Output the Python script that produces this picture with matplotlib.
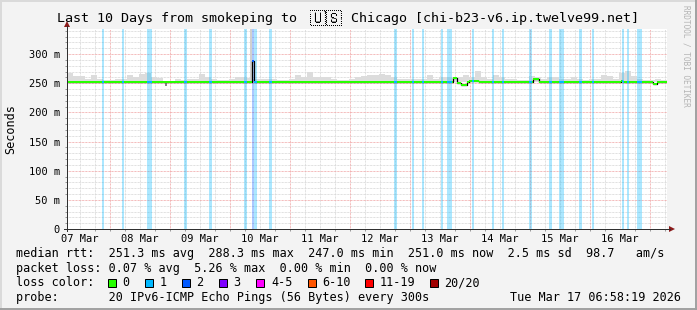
import matplotlib
matplotlib.use("Agg")
import matplotlib.pyplot as plt
from matplotlib.lines import Line2D
from matplotlib.patches import Rectangle, Polygon
from matplotlib import font_manager
from matplotlib.ft2font import FT2Font

plt.rcParams['font.family'] = ['DejaVu Sans Mono', 'DejaVu Sans']

# ---------------- data ----------------
title_left = "Last 10 Days from smokeping to "
title_flag = "\U0001F1FA\U0001F1F8"
title_right = " Chicago [chi-b23-v6.ip.twelve99.net]"
# time axis: hours since 07 Mar 2026 00:00
t_start = 6.972
t_end = 246.972
day_labels = ["07 Mar", "08 Mar", "09 Mar", "10 Mar", "11 Mar",
              "12 Mar", "13 Mar", "14 Mar", "15 Mar", "16 Mar"]
y_top = 343
y_ticks = [0, 50, 100, 150, 200, 250, 300]
y_tick_labels = ["0", "50 m", "100 m", "150 m", "200 m", "250 m", "300 m"]

# median RTT (ms) as steps: value holds from median_t[i] until next
median_t = [6.972, 80.97, 81.77, 161.37, 162.97, 164.57, 166.97, 167.77,
            171.77, 193.37, 195.77, 228.57, 229.37, 241.37, 242.97]
median_v = [251.3, 288.3, 251.3, 258.5, 250.0, 247.0, 251.3, 253.5,
            251.3, 257.0, 251.3, 253.0, 251.3, 249.0, 251.3]

# smoke (upper ping spread) tops in ms, one value per 2.4 h slot
smoke_slot = 2.4
smoke_top = [266.7, 261.6, 261.6, 256.5, 263.3, 256.5, 254.7, 254.7, 256.5, 256.5,
             263.3, 261.0, 265.0, 266.7, 259.9, 258.2, 253.0, 253.0, 256.5, 254.7,
             256.5, 256.5, 265.0, 259.9, 256.5, 254.7, 254.7, 256.5, 259.9, 259.9,
             258.7, 256.5, 256.5, 256.5, 256.5, 254.7, 254.7, 256.5, 263.3, 259.9,
             268.5, 259.9, 259.9, 259.9, 256.5, 254.7, 254.7, 256.5, 259.9, 261.6,
             263.3, 264.5, 265.0, 263.3, 259.9, 256.5, 256.5, 256.5, 256.5, 257.6,
             263.3, 257.6, 259.9, 259.9, 259.9, 259.9, 263.3, 259.9, 270.2, 259.9,
             256.5, 263.3, 259.9, 256.5, 256.5, 254.7, 254.7, 261.6, 259.9, 256.5,
             259.9, 259.9, 257.6, 257.6, 259.9, 256.5, 254.7, 256.5, 257.6, 263.3,
             261.6, 256.5, 266.7, 270.2, 261.6, 256.5, 254.7, 254.7, 256.5, 254.7]
# extra smoke spike (very high pings) and low smoke
spike_t = [80.17, 80.97]
spike_top = 400
low_t = [46.17, 46.97]
low_bottom = 245.0

# packet loss intervals (hours) and lost pings
loss_t0 = [20.97, 28.97, 38.97, 53.77, 63.77, 77.77, 80.97, 81.77, 87.77, 137.77,
           144.97, 148.97, 156.57, 158.97, 168.97, 176.97, 180.97, 191.77, 199.77,
           203.77, 211.77, 216.97, 228.97, 230.97, 234.97]
loss_t1 = [21.77, 29.77, 40.97, 54.97, 64.97, 78.97, 81.77, 82.97, 88.97, 138.97,
           145.77, 149.77, 157.37, 160.97, 169.77, 177.77, 181.77, 192.97, 200.97,
           205.77, 212.97, 217.77, 229.77, 231.77, 236.97]
loss_n = [1, 1, 1, 1, 1, 1, 2, 1, 1, 1, 1, 1, 1, 1, 1, 1, 1, 1, 1, 1, 1, 1, 1, 1, 1]

loss_names = ["0", "1", "2", "3", "4-5", "6-10", "11-19", "20/20"]
loss_colors = ["#26ff00", "#00b8ff", "#0059ff", "#7e00ff", "#ff00ff",
               "#ff5500", "#ff0000", "#a10000"]

line_rtt = "median rtt:  251.3 ms avg  288.3 ms max  247.0 ms min  251.0 ms now  2.5 ms sd  98.7   am/s"
line_loss = "packet loss: 0.07 % avg  5.26 % max  0.00 % min  0.00 % now"
line_color_label = "loss color:"
line_probe = "probe:       20 IPv6-ICMP Echo Pings (56 Bytes) every 300s"
stamp = "Tue Mar 17 06:58:19 2026"

# ---------------- layout ----------------
W, H = 697, 310
L, R, B, T = 67, 667, 229, 29
FS_LEG = 8.5
FS_AX = 7.45
FS_TITLE = 9.6
px = 0.72  # one pixel in points

fig = plt.figure(figsize=(W / 100, H / 100), dpi=100, facecolor="#f3f3f3")
ax = fig.add_axes([L / W, 1 - B / H, (R - L) / W, (B - T) / H])
ax.set_facecolor("white")
ax.set_xlim(t_start, t_end)
ax.set_ylim(0, y_top)
for s in ax.spines.values():
    s.set_visible(False)

def fx(x):
    return x / W

def fy(y):
    return 1 - y / H

# grid
grid_minor = "#d6d6d6"
grid_major = "#f0a4a4"
dash = (0, (px, px))
for v in range(10, y_top, 10):
    if v % 50 == 0:
        ax.axhline(v, color=grid_major, lw=px, ls=dash, zorder=0.6)
    else:
        ax.axhline(v, color=grid_minor, lw=px, ls=dash, zorder=0.5)
h = 6
while h < t_end:
    if h > t_start:
        if h % 24 == 0:
            ax.axvline(h, color=grid_major, lw=px, ls=dash, zorder=0.6)
        else:
            ax.axvline(h, color=grid_minor, lw=px, ls=dash, zorder=0.5)
    h += 6

# smoke
slot_left = [t_start + i * smoke_slot for i in range(len(smoke_top))]
slot_h = [top - median_v[0] for top in smoke_top]
ax.bar(slot_left, slot_h, width=smoke_slot, bottom=median_v[0], align="edge",
       color="#dcdcdc", linewidth=0, zorder=1)
ax.fill_between(spike_t, median_v[0], spike_top, color="#d0d0d0", lw=0, zorder=1)
ax.fill_between(low_t, low_bottom, median_v[0], color="#858585", lw=0, zorder=1)

# loss bands
for a, b, n in zip(loss_t0, loss_t1, loss_n):
    ax.axvspan(a, b, color=loss_colors[n], alpha=0.33, lw=0, zorder=2)

# median line
ends = median_t[1:] + [t_end]
ax.step(median_t + [t_end], median_v + [median_v[-1]], where="post",
        color="#000000", lw=0.9, zorder=3)
ax.hlines(median_v, median_t, ends, colors=loss_colors[0], lw=2 * px, zorder=4)
for a, b, n in zip(loss_t0, loss_t1, loss_n):
    for s0, s1, v in zip(median_t, ends, median_v):
        lo, hi = max(a, s0), min(b, s1)
        if hi > lo:
            ax.hlines(v, lo, hi, colors=loss_colors[n], lw=2 * px, zorder=5)

# ticks and labels
ax.set_yticks(y_ticks)
ax.set_yticklabels(y_tick_labels)
ax.set_xticks([12 + 24 * i for i in range(len(day_labels))])
ax.set_xticklabels(day_labels)
ax.set_yticks(list(range(0, y_top, 10)), minor=True)
ax.set_xticks([h for h in range(12, int(t_end) + 1, 6)], minor=True)
ax.tick_params(axis="both", which="major", length=0, labelsize=FS_AX, colors="black")
ax.tick_params(axis="y", which="major", pad=5.0)
ax.tick_params(axis="x", which="major", pad=3.5)
ax.tick_params(axis="both", which="minor", length=2 * px, width=px, color="#999999")

# axis lines with arrows
axis_c = "#303030"
arrow_c = "#8b1a1a"
fig.add_artist(Line2D([fx(L), fx(L)], [fy(B + 2), fy(T - 3)], color=axis_c, lw=px))
fig.add_artist(Line2D([fx(L - 3), fx(R + 3)], [fy(B), fy(B)], color=axis_c, lw=px))
fig.add_artist(Polygon([[fx(L - 3), fy(T - 2)], [fx(L + 3), fy(T - 2)], [fx(L), fy(T - 8)]],
                       closed=True, color=arrow_c, lw=0))
fig.add_artist(Polygon([[fx(R + 2), fy(B - 3)], [fx(R + 2), fy(B + 3)], [fx(R + 8), fy(B)]],
                       closed=True, color=arrow_c, lw=0))

# title: look for an installed family that has the flag letters
flag_family = None
for fe in font_manager.fontManager.ttflist:
    try:
        cmap = FT2Font(fe.fname).get_charmap()
    except Exception:
        continue
    if all(ord(c) in cmap for c in title_flag):
        flag_family = fe.name
        break

TY = 18.5
fig.text(fx(57), fy(TY), title_left, ha="left", va="center", fontsize=FS_TITLE)
fig.text(fx(343), fy(TY), title_right, ha="left", va="center", fontsize=FS_TITLE)
if flag_family:
    fig.text(fx(325.5), fy(TY), title_flag, ha="center", va="center", fontsize=11.5,
             family=["DejaVu Sans Mono", flag_family])
else:
    for bx, ch in zip([307.5, 325.5], title_flag):
        code = "%06X" % ord(ch)
        fig.add_artist(Rectangle((fx(bx), fy(TY + 6)), 17 / W, 12 / H, facecolor="white",
                                 edgecolor="black", lw=px))
        fig.text(fx(bx + 8.5), fy(TY - 2.3), code[:3], ha="center", va="center",
                 fontsize=4.0)
        fig.text(fx(bx + 8.5), fy(TY + 2.7), code[3:], ha="center", va="center",
                 fontsize=4.0)

fig.text(fx(11), fy(129), "Seconds", rotation=90, ha="center", va="center", fontsize=FS_LEG)
fig.text(fx(686), fy(5), "RRDTOOL / TOBI OETIKER", rotation=270, ha="center", va="top",
         fontsize=5.6, color="#b4b4b4")

# legend / stats
y1, y2, y3, y4 = 254, 268.5, 283, 297.5
fig.text(fx(16), fy(y1), line_rtt, ha="left", va="center", fontsize=FS_LEG)
fig.text(fx(16), fy(y2), line_loss, ha="left", va="center", fontsize=FS_LEG)
fig.text(fx(16), fy(y3), line_color_label, ha="left", va="center", fontsize=FS_LEG)
box_x = [108, 145, 182, 219, 256.4, 307.5, 365, 430]
for name, col, bx in zip(loss_names, loss_colors, box_x):
    fig.add_artist(Rectangle((fx(bx), fy(y3 + 4)), 8 / W, 8 / H, facecolor=col,
                             edgecolor="black", lw=px))
    fig.text(fx(bx + 14.5), fy(y3), name, ha="left", va="center", fontsize=FS_LEG)
fig.text(fx(16), fy(y4), line_probe, ha="left", va="center", fontsize=FS_LEG)
fig.text(fx(681), fy(y4), stamp, ha="right", va="center", fontsize=FS_LEG)

# frame
fig.add_artist(Line2D([0, 1], [fy(0.5), fy(0.5)], color="#dadada", lw=1.4))
fig.add_artist(Line2D([fx(0.5), fx(0.5)], [0, 1], color="#dadada", lw=1.4))
fig.add_artist(Line2D([0, 1], [fy(H - 1), fy(H - 1)], color="#a0a0a0", lw=1.4))
fig.add_artist(Line2D([fx(W - 1), fx(W - 1)], [0, 1], color="#a0a0a0", lw=1.4))

fig.savefig("out.png", dpi=100, facecolor=fig.get_facecolor())
